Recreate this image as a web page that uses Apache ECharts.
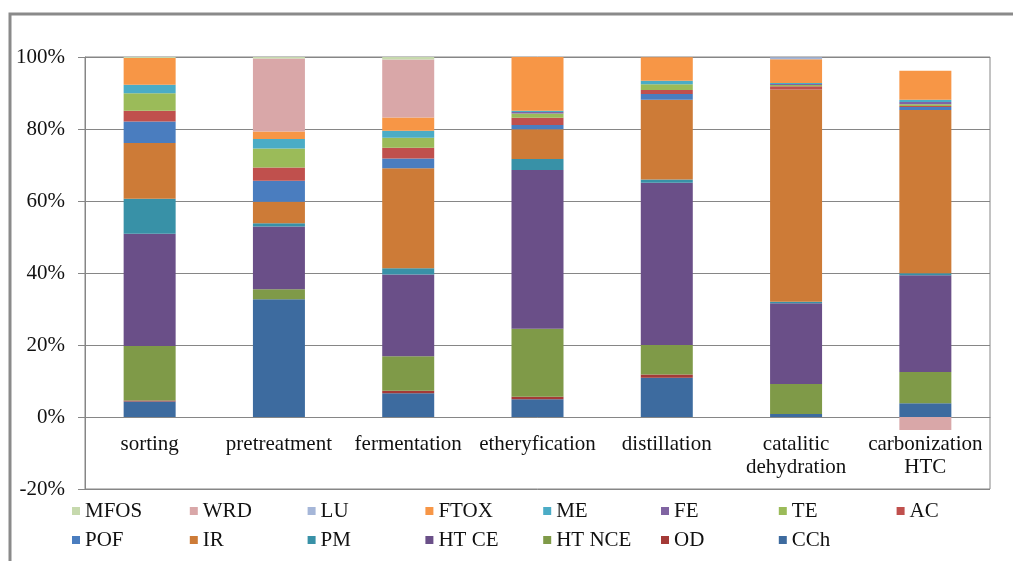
<!DOCTYPE html>
<html lang="en">
<head>
    <meta charset="UTF-8">
    <title>Stacked impact shares</title>
    <script src="https://cdn.jsdelivr.net/npm/echarts@6/dist/echarts.min.js"></script>
    <style>
        body { margin: 0; background: #fff; }
        #main { width: 1013px; height: 561px; }
    </style>
</head>
<body>
    <div id="main"></div>
    <script>
        // categories (process steps)
        var steps = ['sorting', 'pretreatment', 'fermentation', 'etheryfication', 'distillation',
            'catalitic\ndehydration', 'carbonization\nHTC'];

        // y axis ticks (%)
        var yTicks = [-20, 0, 20, 40, 60, 80, 100];

        // shares per step (%), stacked bottom -> top
        var CCh   = [4.3, 32.7, 6.6, 4.9, 10.9, 0.8, 3.8];
        var OD    = [0.3, 0, 0.7, 0.7, 0.9, 0, 0];
        var HTNCE = [15.1, 2.8, 9.6, 18.9, 8.2, 8.4, 8.7];
        var HTCE  = [31.2, 17.4, 22.7, 44.1, 45.1, 22.4, 26.9];
        var PM    = [9.7, 0.9, 1.7, 3.1, 0.9, 0.4, 0.5];
        var IR    = [15.5, 6.0, 27.8, 8.2, 22.1, 59.0, 45.4];
        var POF   = [6.0, 5.8, 2.7, 1.2, 1.6, 0, 0.8];
        var AC    = [3.0, 3.7, 3.0, 2.0, 1.1, 0.9, 0.3];
        var TE    = [4.8, 5.3, 2.8, 1.2, 1.6, 0.3, 0.5];
        var FE    = [0, 0, 0, 0.4, 0, 0.3, 0.6];
        var ME    = [2.4, 2.6, 1.9, 0.4, 1.0, 0.3, 0.6];
        var FTOX  = [7.4, 2.1, 3.7, 15.0, 6.5, 6.6, 8.1];
        var LU    = [0, 0, 0, 0, 0, 0.5, 0];
        var WRD   = [0, 20.3, 16.1, 0, 0, 0, -3.6];
        var MFOS  = [0.5, 0.7, 1.0, 0, 0, 0, 0];

        var seriesList = [
            ['CCh', CCh, '#3D6B9F'],
            ['OD', OD, '#A43A37'],
            ['HT NCE', HTNCE, '#7F9A48'],
            ['HT CE', HTCE, '#6A4F88'],
            ['PM', PM, '#3891A7'],
            ['IR', IR, '#CD7B37'],
            ['POF', POF, '#4A7DBF'],
            ['AC', AC, '#C0504D'],
            ['TE', TE, '#9BBB59'],
            ['FE', FE, '#8064A2'],
            ['ME', ME, '#4BACC6'],
            ['FTOX', FTOX, '#F79646'],
            ['LU', LU, '#A5B6D8'],
            ['WRD', WRD, '#D9A7A8'],
            ['MFOS', MFOS, '#C6D9AD']
        ];

        // legend columns, as laid out under the chart
        var legendCols = [['MFOS', 'POF'], ['WRD', 'IR'], ['LU', 'PM'], ['FTOX', 'HT CE'],
            ['ME', 'HT NCE'], ['FE', 'OD'], ['TE', 'CCh'], ['AC']];

        var font = '"Liberation Serif", "DejaVu Serif", serif';
        var gray = '#868686';

        var myChart = echarts.init(document.getElementById('main'));

        var legends = legendCols.map(function (col, i) {
            return {
                data: col,
                orient: 'vertical',
                left: 72 + 117.8 * i,
                top: 500,
                padding: 0,
                itemWidth: 8,
                itemHeight: 8,
                itemGap: 7,
                itemTextGap: 4,
                icon: 'rect',
                selectedMode: false,
                textStyle: { fontFamily: font, fontSize: 21, lineHeight: 22, color: '#111' }
            };
        });

        var series = seriesList.map(function (s) {
            return {
                name: s[0],
                type: 'bar',
                stack: 'all',
                barWidth: 52,
                itemStyle: { color: s[2] },
                data: s[1]
            };
        });

        var option = {
            animation: false,
            // outer chart frame: only top and left edges are inside the picture
            graphic: [{
                type: 'polyline',
                shape: { points: [[1013, 14], [10, 14], [10, 561]] },
                style: { fill: null, stroke: '#8a8a8a', lineWidth: 3 },
                silent: true
            }],
            legend: legends,
            grid: {
                left: 85,
                right: 23,
                top: 57,
                bottom: 72,
                show: true,
                borderColor: gray,
                borderWidth: 1
            },
            xAxis: {
                type: 'category',
                data: steps,
                position: 'bottom',
                // category axis sits on the 0% line, 72px above the -20% edge
                offset: -72,
                axisLine: { onZero: false, lineStyle: { color: gray } },
                axisTick: { length: 6, lineStyle: { color: gray } },
                axisLabel: {
                    margin: 16,
                    interval: 0,
                    fontFamily: font,
                    fontSize: 21,
                    lineHeight: 23,
                    color: '#111'
                }
            },
            yAxis: {
                type: 'value',
                min: yTicks[0],
                max: yTicks[yTicks.length - 1],
                interval: 20,
                axisLine: { show: true, lineStyle: { color: gray } },
                axisTick: { show: true, length: 7, lineStyle: { color: gray } },
                splitLine: { lineStyle: { color: gray } },
                axisLabel: {
                    margin: 20,
                    formatter: '{value}%',
                    fontFamily: font,
                    fontSize: 21,
                    color: '#111'
                }
            },
            series: series
        };

        myChart.setOption(option);
    </script>
</body>
</html>
